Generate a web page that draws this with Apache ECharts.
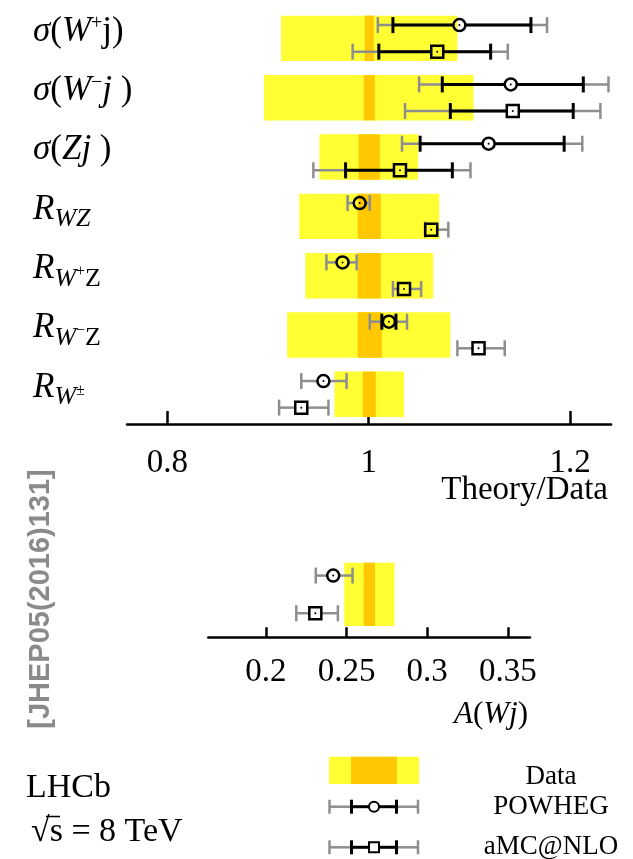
<!DOCTYPE html>
<html>
<head>
<meta charset="utf-8">
<script src="https://cdn.jsdelivr.net/npm/echarts@6/dist/echarts.min.js"></script>
<style>
  html, body { margin: 0; padding: 0; background: #fff; }
  #chart { width: 633px; height: 859px; }
</style>
</head>
<body>
<div id="chart"></div>
<script>
// ---- Theory/Data comparison (top panel) ----
const observables = ['σ(W+j)', 'σ(W−j)', 'σ(Zj)', 'R_WZ', 'R_W+Z', 'R_W−Z', 'R_W±'];
// measured values normalised to 1: total (yellow) and statistical (orange) intervals
const dataTotal = [[0.913, 1.088], [0.896, 1.104], [0.951, 1.049], [0.931, 1.070], [0.937, 1.064], [0.919, 1.081], [0.966, 1.035]];
const dataStat  = [[0.996, 1.005], [0.995, 1.006], [0.990, 1.011], [0.989, 1.012], [0.989, 1.012], [0.989, 1.013], [0.994, 1.007]];
// POWHEG predictions: central value, inner and full uncertainty
const powhegValue = [1.090, 1.141, 1.119, 0.991, 0.974, 1.020, 0.955];
const powhegInner = [[1.024, 1.161], [1.073, 1.213], [1.051, 1.194], null, null, [1.013, 1.027], null];
const powhegOuter = [[1.009, 1.177], [1.050, 1.238], [1.033, 1.212], [0.979, 1.001], [0.958, 0.988], [1.001, 1.038], [0.933, 0.978]];
// aMC@NLO predictions
const amcValue = [1.068, 1.143, 1.031, 1.062, 1.035, 1.109, 0.933];
const amcInner = [[1.010, 1.121], [1.081, 1.203], [0.977, 1.083], null, null, null, null];
const amcOuter = [[0.984, 1.138], [1.036, 1.230], [0.945, 1.101], [1.056, 1.079], [1.024, 1.052], [1.088, 1.135], [0.911, 0.960]];
const ratioTicks = [0.8, 1, 1.2];

// ---- W charge asymmetry (bottom panel) ----
const asymCategory = ['A(Wj)'];
const asymTotal = [[0.2486, 0.2797]];
const asymStat  = [[0.2606, 0.2677]];
const asymPowhegValue = [0.2417];
const asymPowhegOuter = [[0.2309, 0.2537]];
const asymAmcValue = [0.2306];
const asymAmcOuter = [[0.2188, 0.2446]];
const asymTicks = [0.2, 0.25, 0.3, 0.35];

const SERIF = '"Liberation Serif", "Times New Roman", serif';
const YELLOW = '#ffff33';
const ORANGE = '#ffc800';
const GREY = '#8e8e8e';

// rich-text markup for the row labels
const labelMarkup = {
  'σ(W+j)': '{it|σ}{rm|(}{it|W}{sup|+}{rm|j)}',
  'σ(W−j)': '{it|σ}{rm|(}{it|W}{sup|−}{it|j}{rm| )}',
  'σ(Zj)':  '{it|σ}{rm|(}{it|Zj}{rm| )}',
  'R_WZ':   '{it|R}{sub|WZ}',
  'R_W+Z':  '{it|R}{sub|W}{subsup|+}{subrm|Z}',
  'R_W−Z':  '{it|R}{sub|W}{subsup|−}{subrm|Z}',
  'R_W±':   '{it|R}{sub|W}{subsup|±}'
};
// vertical shift of a rich token (positive = down) through asymmetric padding
function shift(v) { return v >= 0 ? [2 * v, 0, 0, 0] : [0, 0, -2 * v, 0]; }
const RAISE = -7;
const rowRich = {
  it:     { fontFamily: SERIF, fontStyle: 'italic', fontSize: 35, color: '#000', padding: shift(RAISE) },
  rm:     { fontFamily: SERIF, fontSize: 35, color: '#000', padding: shift(RAISE) },
  sup:    { fontFamily: SERIF, fontSize: 20, color: '#000', padding: shift(RAISE - 8) },
  sub:    { fontFamily: SERIF, fontStyle: 'italic', fontSize: 26, color: '#000', padding: shift(RAISE + 10) },
  subrm:  { fontFamily: SERIF, fontSize: 26, color: '#000', padding: shift(RAISE + 10) },
  subsup: { fontFamily: SERIF, fontSize: 16, color: '#000', padding: shift(RAISE + 3) }
};

// yellow/orange data band
function bandRenderer(halfFrac) {
  return function (params, api) {
    const i = api.value(0);
    const rowH = api.size([0, 1])[1];
    const yc = api.coord([1, i])[1];
    const h = 2 * halfFrac * rowH;
    const t0 = api.coord([api.value(1), i])[0], t1 = api.coord([api.value(2), i])[0];
    const s0 = api.coord([api.value(3), i])[0], s1 = api.coord([api.value(4), i])[0];
    return {
      type: 'group',
      children: [
        { type: 'rect', shape: { x: t0, y: yc - h / 2, width: t1 - t0, height: h }, style: { fill: YELLOW } },
        { type: 'rect', shape: { x: s0, y: yc - h / 2, width: s1 - s0, height: h }, style: { fill: ORANGE } }
      ]
    };
  };
}

// prediction marker with inner (black) and full (grey) error bars
function predictionRenderer(shape, offFrac, innerList) {
  const R = 6, CAP = 8;
  return function (params, api) {
    const i = api.value(0);
    const rowH = api.size([0, 1])[1];
    const p = api.coord([api.value(1), i]);
    const x = p[0], y = p[1] + offFrac * rowH;
    const children = [];
    function bar(lo, hi, color, w) {
      const xl = api.coord([lo, i])[0], xh = api.coord([hi, i])[0];
      if (xl < x - R) children.push({ type: 'line', shape: { x1: xl, y1: y, x2: x - R, y2: y }, style: { stroke: color, lineWidth: w } });
      if (xh > x + R) children.push({ type: 'line', shape: { x1: x + R, y1: y, x2: xh, y2: y }, style: { stroke: color, lineWidth: w } });
      [xl, xh].forEach(function (xx) {
        if (Math.abs(xx - x) > R) children.push({ type: 'line', shape: { x1: xx, y1: y - CAP, x2: xx, y2: y + CAP }, style: { stroke: color, lineWidth: w } });
      });
    }
    bar(api.value(2), api.value(3), GREY, 2.5);
    const inner = innerList ? innerList[params.dataIndex] : null;
    if (inner) bar(inner[0], inner[1], '#000', 3);
    if (shape === 'circle') {
      children.push({ type: 'circle', shape: { cx: x, cy: y, r: R }, style: { fill: 'none', stroke: '#000', lineWidth: 2.5 } });
    } else {
      children.push({ type: 'rect', shape: { x: x - R, y: y - R, width: 2 * R, height: 2 * R }, style: { fill: 'none', stroke: '#000', lineWidth: 2.5 } });
    }
    children.push({ type: 'circle', shape: { cx: x, cy: y, r: 1 }, style: { fill: '#000' } });
    return { type: 'group', children: children };
  };
}

function bandData(tot, stat) { return tot.map(function (t, i) { return [i, t[0], t[1], stat[i][0], stat[i][1]]; }); }
function predData(vals, outer) { return vals.map(function (v, i) { return [i, v, outer[i][0], outer[i][1]]; }); }

const axisBase = function (ticks, tickLen, margin) {
  return {
    type: 'value',
    axisLine: { show: true, onZero: false, lineStyle: { color: '#000', width: 2.5 } },
    axisTick: { show: true, inside: true, length: tickLen, customValues: ticks, lineStyle: { color: '#000', width: 2.5 } },
    axisLabel: { customValues: ticks, margin: margin, color: '#000', fontFamily: SERIF, fontSize: 33, formatter: function (v) { return String(v); } },
    splitLine: { show: false },
    nameLocation: 'end',
    nameMoveOverlap: false
  };
};

function legendErr(y, shape) {
  const c = 374, r = 5, cap = 7;
  const out = [];
  function seg(x1, x2, color, w) { out.push({ type: 'line', shape: { x1: x1, y1: y, x2: x2, y2: y }, style: { stroke: color, lineWidth: w } }); }
  function tick(x, color, w) { out.push({ type: 'line', shape: { x1: x, y1: y - cap, x2: x, y2: y + cap }, style: { stroke: color, lineWidth: w } }); }
  seg(329, 351, GREY, 2.5); seg(397, 418.5, GREY, 2.5);
  tick(329.5, GREY, 2.5); tick(418, GREY, 2.5);
  seg(351, c - r, '#000', 3); seg(c + r, 397, '#000', 3);
  tick(351.5, '#000', 3); tick(396.5, '#000', 3);
  if (shape === 'circle') out.push({ type: 'circle', shape: { cx: c, cy: y, r: r }, style: { fill: '#fff', stroke: '#000', lineWidth: 2 } });
  else out.push({ type: 'rect', shape: { x: c - r, y: y - r, width: 2 * r, height: 2 * r }, style: { fill: '#fff', stroke: '#000', lineWidth: 2 } });
  return out;
}

const chart = echarts.init(document.getElementById('chart'));
chart.setOption({
  animation: false,
  backgroundColor: '#fff',
  grid: [
    { left: 127, right: 22, top: 8.7, height: 415.3, outerBoundsMode: 'none' },
    { left: 208.3, right: 103, top: 551.3, height: 86, outerBoundsMode: 'none' }
  ],
  xAxis: [
    Object.assign(axisBase(ratioTicks, 13, 23), {
      gridIndex: 0, min: 0.76, max: 1.2405,
      name: 'Theory/Data', nameGap: -3,
      nameTextStyle: { fontFamily: SERIF, fontSize: 33, color: '#000', align: 'right', verticalAlign: 'top', padding: [50, 0, 0, 0] }
    }),
    Object.assign(axisBase(asymTicks, 10, 19), {
      gridIndex: 1, min: 0.1642, max: 0.3638,
      name: '{it|A}{rm|(}{it|Wj}{rm|)}', nameGap: -2,
      nameTextStyle: {
        align: 'right', verticalAlign: 'top', padding: [62, 0, 0, 0],
        rich: {
          it: { fontFamily: SERIF, fontStyle: 'italic', fontSize: 31, color: '#000' },
          rm: { fontFamily: SERIF, fontSize: 31, color: '#000' }
        }
      }
    })
  ],
  yAxis: [
    {
      gridIndex: 0, type: 'category', data: observables, inverse: true,
      axisLine: { show: false }, axisTick: { show: false }, splitLine: { show: false },
      axisLabel: { align: 'left', margin: 94, formatter: function (v) { return labelMarkup[v]; }, rich: rowRich }
    },
    {
      gridIndex: 1, type: 'category', data: asymCategory, inverse: true,
      axisLine: { show: false }, axisTick: { show: false }, axisLabel: { show: false }, splitLine: { show: false }
    }
  ],
  series: [
    { type: 'custom', xAxisIndex: 0, yAxisIndex: 0, clip: false, renderItem: bandRenderer(0.383),
      encode: { x: [1, 2, 3, 4], y: 0 }, data: bandData(dataTotal, dataStat), z: 1 },
    { type: 'custom', xAxisIndex: 0, yAxisIndex: 0, clip: false, renderItem: predictionRenderer('circle', -0.224, powhegInner),
      encode: { x: [1, 2, 3], y: 0 }, data: predData(powhegValue, powhegOuter), z: 3 },
    { type: 'custom', xAxisIndex: 0, yAxisIndex: 0, clip: false, renderItem: predictionRenderer('rect', 0.224, amcInner),
      encode: { x: [1, 2, 3], y: 0 }, data: predData(amcValue, amcOuter), z: 3 },
    { type: 'custom', xAxisIndex: 1, yAxisIndex: 1, clip: false, renderItem: bandRenderer(0.368),
      encode: { x: [1, 2, 3, 4], y: 0 }, data: bandData(asymTotal, asymStat), z: 1 },
    { type: 'custom', xAxisIndex: 1, yAxisIndex: 1, clip: false, renderItem: predictionRenderer('circle', -0.218, null),
      encode: { x: [1, 2, 3], y: 0 }, data: predData(asymPowhegValue, asymPowhegOuter), z: 3 },
    { type: 'custom', xAxisIndex: 1, yAxisIndex: 1, clip: false, renderItem: predictionRenderer('rect', 0.22, null),
      encode: { x: [1, 2, 3], y: 0 }, data: predData(asymAmcValue, asymAmcOuter), z: 3 }
  ],
  graphic: [
    // journal reference, running upwards along the left edge
    { type: 'text', x: 41, y: 599, rotation: Math.PI / 2,
      style: { text: '[JHEP05(2016)131]', fill: '#8a8a8a', font: 'bold 29px "Liberation Sans", Arial, sans-serif', align: 'center', verticalAlign: 'middle' } },
    { type: 'text', x: 26, y: 788,
      style: { text: 'LHCb', fill: '#000', font: '34px ' + SERIF, align: 'left', verticalAlign: 'middle' } },
    { type: 'text', x: 31, y: 832,
      style: { text: '√s = 8 TeV', fill: '#000', font: '34px ' + SERIF, align: 'left', verticalAlign: 'middle' } },
    // vinculum of the square root over "s"
    { type: 'line', shape: { x1: 46, y1: 816.5, x2: 60, y2: 816.5 }, style: { stroke: '#000', lineWidth: 1.5 } },
    // key
    { type: 'rect', shape: { x: 329, y: 756.7, width: 90, height: 27.3 }, style: { fill: YELLOW } },
    { type: 'rect', shape: { x: 351, y: 756.7, width: 46, height: 27.3 }, style: { fill: ORANGE } },
    { type: 'group', children: legendErr(806.7, 'circle') },
    { type: 'group', children: legendErr(847.3, 'rect') },
    { type: 'text', x: 551, y: 777, style: { text: 'Data', fill: '#000', font: '27px ' + SERIF, align: 'center', verticalAlign: 'middle' } },
    { type: 'text', x: 551, y: 807, style: { text: 'POWHEG', fill: '#000', font: '27px ' + SERIF, align: 'center', verticalAlign: 'middle' } },
    { type: 'text', x: 551, y: 847, style: { text: 'aMC@NLO', fill: '#000', font: '27px ' + SERIF, align: 'center', verticalAlign: 'middle' } }
  ]
});
</script>
</body>
</html>
